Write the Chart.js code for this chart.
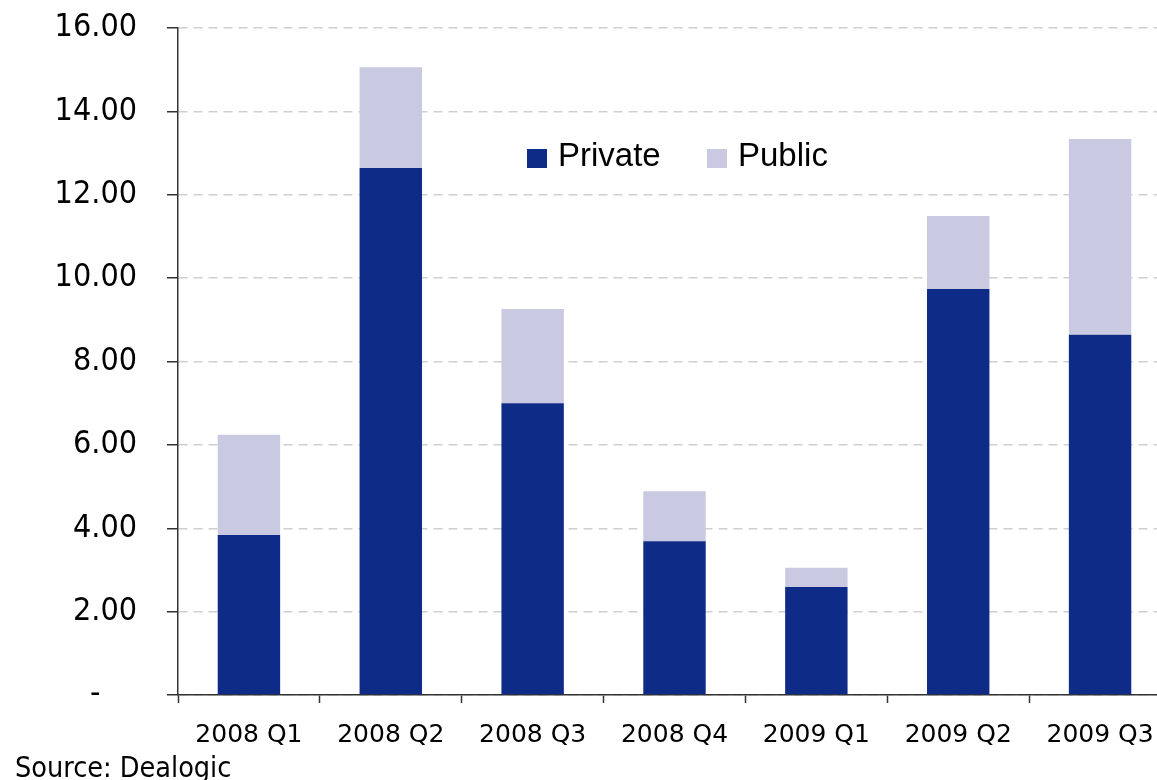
<!DOCTYPE html>
<html>
<head>
<meta charset="utf-8">
<title>Private vs Public</title>
<script src="https://cdn.jsdelivr.net/npm/chart.js@4/dist/chart.umd.min.js"></script>
<style>
    html, body {
        margin: 0;
        padding: 0;
        background: #fff;
        overflow: hidden;
    }
    #wrap {
        position: relative;
        width: 1157px;
        height: 780px;
        overflow: hidden;
    }
    #source {
        position: absolute;
        left: 15px;
        top: 751px;
        font-family: "DejaVu Sans Condensed", "DejaVu Sans", sans-serif;
        font-size: 28.5px;
        line-height: normal;
        color: #000;
        white-space: nowrap;
    }
</style>
</head>
<body>
<div id="wrap">
    <canvas id="myChart" width="1180" height="780" style="width:1180px;height:780px;display:block"></canvas>
    <div id="source">Source: Dealogic</div>
</div>

<script>
let labels = ['2008 Q1', '2008 Q2', '2008 Q3', '2008 Q4', '2009 Q1', '2009 Q2', '2009 Q3'];
let privateData = [3.84, 12.64, 7.00, 3.69, 2.59, 9.74, 8.64];
let publicData = [2.40, 2.42, 2.26, 1.20, 0.46, 1.75, 4.70];
let seriesNames = ['Private', 'Public'];
let colors = ['#0f2b88', '#c9c9e1'];

// legend drawn inside the plot, like the original
const legendInside = {
    id: 'legendInside',
    afterDraw(chart) {
        const ctx = chart.ctx
        const pos = [[527, 149], [707, 149]]
        ctx.save()
        ctx.font = '33px "Liberation Sans", Arial, sans-serif'
        ctx.textBaseline = 'middle'
        chart.data.datasets.forEach((ds, i) => {
            ctx.fillStyle = ds.backgroundColor
            ctx.fillRect(pos[i][0], pos[i][1], 20, 19)
            ctx.fillStyle = '#000'
            ctx.fillText(ds.label, pos[i][0] + 31, pos[i][1] + 8)
        })
        ctx.restore()
    }
}

let myChart = document.getElementById('myChart').getContext('2d');

let chart = new Chart(myChart, {
    type: 'bar',
    data: {
        labels: labels,
        datasets: [{
            label: seriesNames[0],
            data: privateData,
            backgroundColor: colors[0],
            borderWidth: 0
        }, {
            label: seriesNames[1],
            data: publicData,
            backgroundColor: colors[1],
            borderWidth: 0
        }]
    },
    options: {
        responsive: false,
        animation: false,
        categoryPercentage: 1,
        barPercentage: 0.44,
        layout: {
            padding: { top: 28, right: 9, left: 0, bottom: 0 }
        },
        plugins: {
            legend: { display: false },
            tooltip: { enabled: false }
        },
        scales: {
            x: {
                stacked: true,
                afterFit: (scale) => { scale.height = 85 },
                grid: {
                    offset: true,
                    drawOnChartArea: false,
                    drawTicks: true,
                    tickLength: 8,
                    tickColor: '#333',
                    tickWidth: 1.5
                },
                border: { color: '#333', width: 1.5 },
                ticks: {
                    color: '#000',
                    padding: 17,
                    maxRotation: 0,
                    font: { family: '"DejaVu Sans", Verdana, sans-serif', size: 25 }
                }
            },
            y: {
                stacked: true,
                min: 0,
                max: 16,
                afterFit: (scale) => {
                    scale.width = 178
                    scale.paddingTop = 0
                    scale.paddingBottom = 0
                },
                grid: {
                    color: '#cfcfcf',
                    lineWidth: 1.5,
                    tickLength: 11,
                    tickColor: '#333',
                    tickWidth: 1.5,
                    tickBorderDash: []
                },
                border: { color: '#333', width: 1.5, dash: [9, 6] },
                ticks: {
                    stepSize: 2,
                    color: '#000',
                    padding: 30,
                    font: { family: '"DejaVu Sans Condensed", "DejaVu Sans", Verdana, sans-serif', size: 32 },
                    callback: (v) => v === 0 ? '-    ' : v.toFixed(2)
                }
            }
        }
    },
    plugins: [legendInside]
});
</script>
</body>
</html>
